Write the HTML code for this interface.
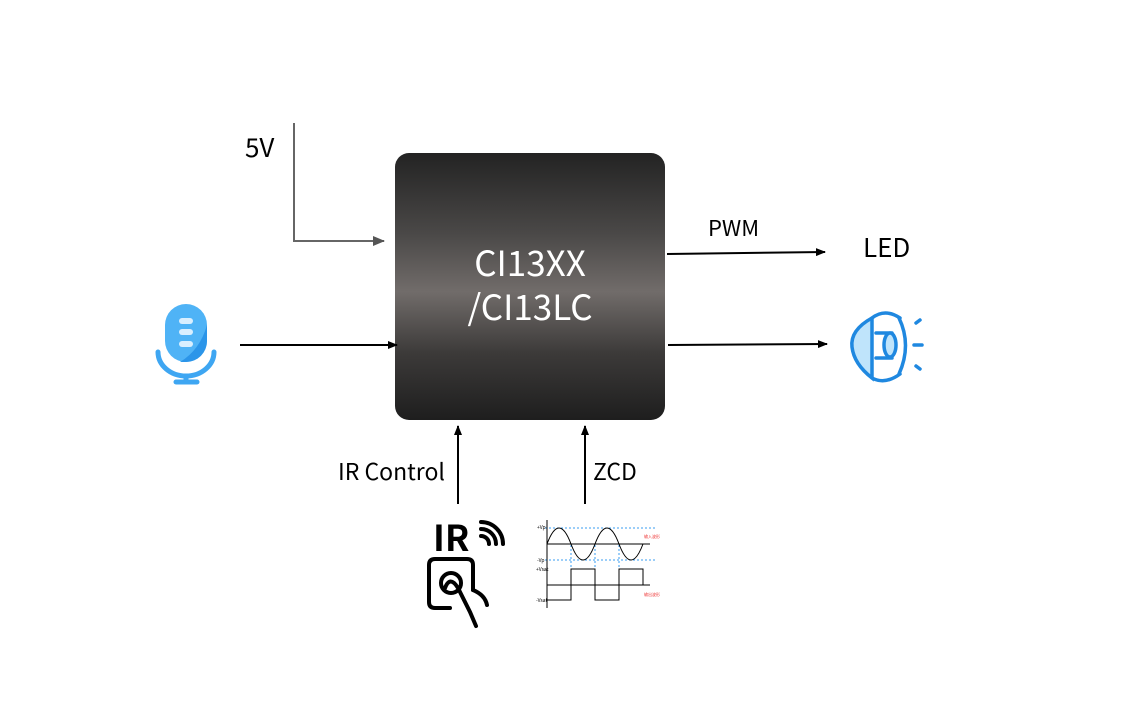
<!DOCTYPE html>
<html><head><meta charset="utf-8"><style>
html,body{margin:0;padding:0;background:#fff;}
svg{display:block;}
text{font-family:"Noto Sans CJK SC","Liberation Sans",sans-serif;}
</style></head><body>
<svg width="1144" height="707" viewBox="0 0 1144 707" xmlns="http://www.w3.org/2000/svg">
<defs>
<linearGradient id="g" x1="0" y1="0" x2="0" y2="1">
<stop offset="0" stop-color="#232323"/>
<stop offset="0.3" stop-color="#4a4847"/>
<stop offset="0.52" stop-color="#716c6a"/>
<stop offset="0.75" stop-color="#3c3a39"/>
<stop offset="1" stop-color="#1e1e1e"/>
</linearGradient>
<marker id="a" markerWidth="10" markerHeight="8" refX="9" refY="4" orient="auto" markerUnits="userSpaceOnUse"><path d="M0,0 L10,4 L0,8z" fill="#000"/></marker>
<marker id="ag" markerWidth="12" markerHeight="10" refX="11" refY="5" orient="auto" markerUnits="userSpaceOnUse"><path d="M0,0 L12,5 L0,10z" fill="#555"/></marker>
</defs>
<rect x="395" y="153" width="270" height="267" rx="14" fill="url(#g)"/>
<text x="530" y="276" font-size="35" fill="#fff" text-anchor="middle">CI13XX</text>
<text x="530" y="320" font-size="35" fill="#fff" text-anchor="middle">/CI13LC</text>
<text x="245" y="157" font-size="26" fill="#000">5V</text>
<polyline points="294,123 294,241 384,241" fill="none" stroke="#666" stroke-width="2" marker-end="url(#ag)"/>
<line x1="240" y1="345" x2="397" y2="345" stroke="#000" stroke-width="2" marker-end="url(#a)"/>
<line x1="667" y1="254" x2="825" y2="252" stroke="#000" stroke-width="2" marker-end="url(#a)"/>
<text x="708" y="236" font-size="22" fill="#000">PWM</text>
<text x="863" y="257" font-size="26" fill="#000">LED</text>
<line x1="668" y1="345" x2="827" y2="344" stroke="#000" stroke-width="2" marker-end="url(#a)"/>
<line x1="458" y1="504" x2="458" y2="426" stroke="#000" stroke-width="2" marker-end="url(#a)"/>
<line x1="585" y1="504" x2="585" y2="426" stroke="#000" stroke-width="2" marker-end="url(#a)"/>
<text x="338" y="480" font-size="23" fill="#000">IR Control</text>
<text x="593" y="480" font-size="23" fill="#000">ZCD</text>
<!-- mic -->
<rect x="165" y="304" width="42" height="58" rx="21" fill="#4fb3f6"/>
<path d="M207,325 L207,341 A21,21 0 0 1 186,362 L180,362 Q200,350 207,325z" fill="#2b95e9"/>
<rect x="179" y="318" width="14" height="6" rx="3" fill="#d9efff"/>
<rect x="179" y="329" width="14" height="6" rx="3" fill="#d9efff"/>
<rect x="179" y="341" width="14" height="6" rx="3" fill="#d9efff"/>
<path d="M158,352 A28,24 0 0 0 214,352" fill="none" stroke="#3ea6f2" stroke-width="5" stroke-linecap="round"/>
<line x1="186" y1="374" x2="186" y2="382" stroke="#3ea6f2" stroke-width="5"/>
<line x1="176" y1="382" x2="197" y2="382" stroke="#3ea6f2" stroke-width="5" stroke-linecap="round"/>
<!-- speaker -->
<g stroke="#1f88e0" stroke-width="3.5" fill="none" stroke-linecap="round">
<path d="M872,318 Q850,330 852,347 Q854,364 872,378 Z" fill="#bfe4fb"/>
<path d="M872,318 Q885,308 900,318"/>
<path d="M872,378 Q885,385 900,374"/>
<path d="M899,318 Q912,345 899,374"/>
<path d="M876,333 L892,333 M876,358 L892,358"/>
<ellipse cx="890" cy="345" rx="6" ry="12" fill="#bfe4fb"/>
<line x1="916" y1="323" x2="920" y2="320"/>
<line x1="914" y1="345" x2="922" y2="345"/>
<line x1="916" y1="366" x2="920" y2="369"/>
</g>
<!-- IR icon -->
<text x="433" y="551" font-size="36" font-weight="bold" fill="#000" font-family="Liberation Sans">IR</text>
<g stroke="#000" stroke-width="4" fill="none" stroke-linecap="round">
<path d="M481,536 A8,8 0 0 1 489,544"/>
<path d="M481,529 A15,15 0 0 1 496,544"/>
<path d="M481,522 A22,22 0 0 1 503,544"/>
<path d="M473,590 L473,565 Q473,559 467,559 L435,559 Q429,559 429,565 L429,602 Q429,608 435,608 L450,608"/>
<circle cx="451" cy="583" r="10"/>
<path d="M445,588 Q450,575 458,588 L470,612 L476,626"/>
<path d="M473,590 Q485,595 487,605"/>
</g>
<!-- waveform -->
<g stroke-width="1">
<line x1="545" y1="528" x2="655" y2="528" stroke="#3a9ef0" stroke-dasharray="2,2"/>
<line x1="545" y1="560" x2="655" y2="560" stroke="#3a9ef0" stroke-dasharray="2,2"/>
<line x1="571" y1="545" x2="571" y2="582" stroke="#3a9ef0" stroke-dasharray="2,2"/>
<line x1="595" y1="545" x2="595" y2="600" stroke="#3a9ef0" stroke-dasharray="2,2"/>
<line x1="619" y1="545" x2="619" y2="582" stroke="#3a9ef0" stroke-dasharray="2,2"/>
<line x1="547" y1="520" x2="547" y2="608" stroke="#000"/>
<line x1="547" y1="544" x2="650" y2="544" stroke="#000"/>
<line x1="547" y1="585" x2="650" y2="585" stroke="#000"/>
<path d="M547,544 Q559,512 571,544 T595,544 T619,544 T643,544" fill="none" stroke="#000"/>
<polyline points="547,600 571,600 571,569 595,569 595,600 619,600 619,569 643,569 643,585" fill="none" stroke="#000"/>
</g>
<text x="537" y="529" font-size="5" fill="#000">+Vp</text>
<text x="537" y="562" font-size="5" fill="#000">-Vp</text>
<text x="536" y="571" font-size="5" fill="#000">+Vsat</text>
<text x="536" y="602" font-size="5" fill="#000">-Vsat</text>
<text x="644" y="538" font-size="4" fill="#e33">输入波形</text>
<text x="644" y="596" font-size="4" fill="#e33">输出波形</text>
</svg>
</body></html>
